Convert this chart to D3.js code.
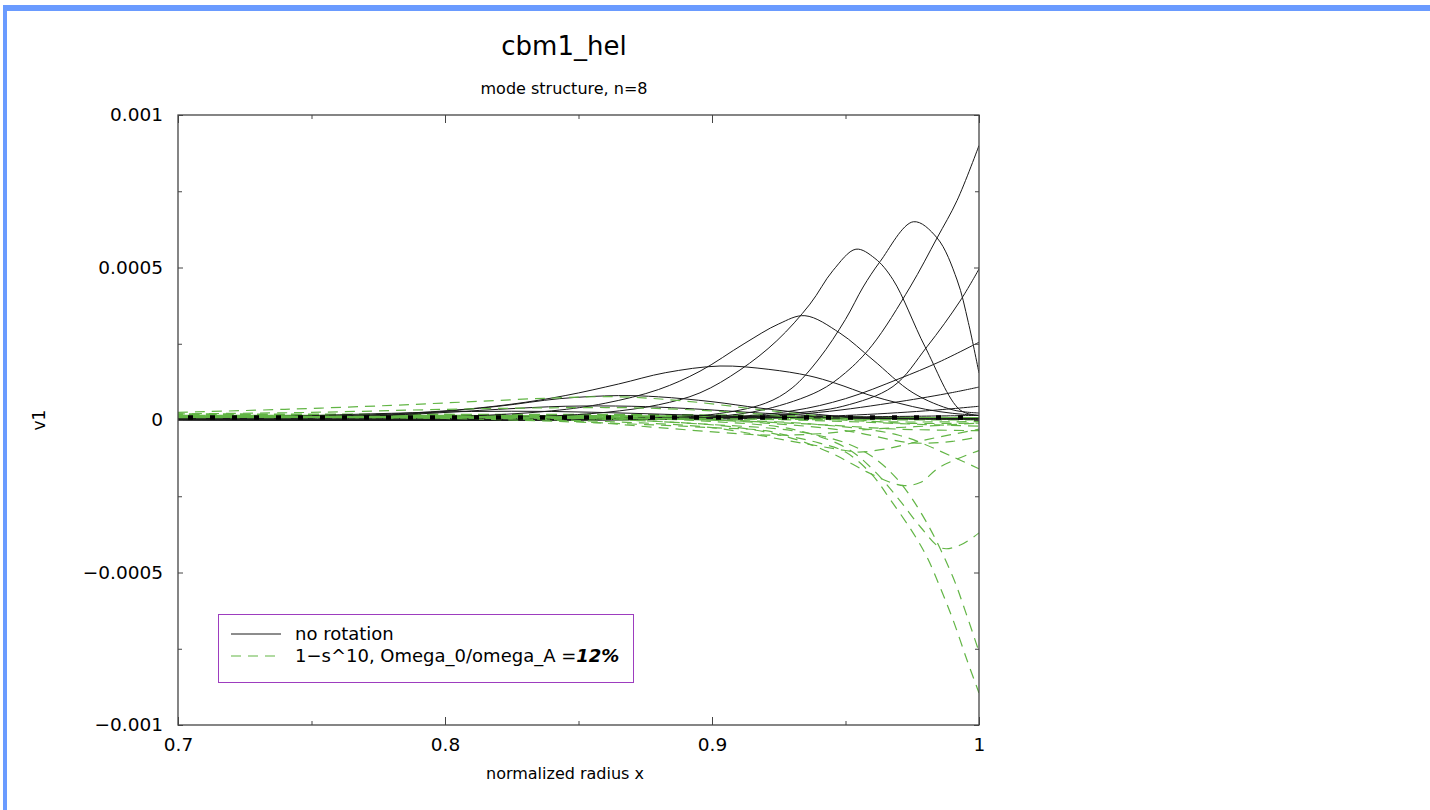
<!DOCTYPE html>
<html>
<head>
<meta charset="utf-8">
<script src="https://cdn.jsdelivr.net/npm/d3@7"></script>
<style>
  body { margin: 0; background: #fff; }
  svg { display: block; font-family: "DejaVu Sans", sans-serif; }
</style>
</head>
<body>
<svg id="chart" width="1430" height="810"></svg>
<script>
// ---- axis ticks ----
const xTickValues = [0.7, 0.8, 0.9, 1.0];
const xTickLabels = ["0.7", "0.8", "0.9", "1"];
const xMinorTicks = [0.75, 0.85, 0.95];
// v1 values are stored in units of 1e-4
const yTickValues = [-10, -5, 0, 5, 10];
const yTickLabels = ["\u22120.001", "\u22120.0005", "0", "0.0005", "0.001"];
const yMinorTicks = [-7.5, -2.5, 2.5, 7.5];

// ---- no rotation: harmonics of v1 (x, v1 * 1e4) ----
const noRot1 = [[0.70,0.05],[0.74,0.12],[0.78,0.22],[0.81,0.28],[0.84,0.28],[0.87,0.22],[0.90,0.14],[0.93,0.08],[0.96,0.05],[1.00,0.04]];
const noRot2 = [[0.70,0.03],[0.75,0.08],[0.79,0.20],[0.82,0.35],[0.845,0.45],[0.87,0.45],[0.89,0.38],[0.92,0.22],[0.95,0.10],[0.98,0.05],[1.00,0.05]];
const noRot3 = [[0.70,0.02],[0.75,0.08],[0.79,0.22],[0.82,0.45],[0.843,0.70],[0.865,0.80],[0.88,0.76],[0.90,0.60],[0.918,0.39],[0.94,0.18],[0.955,0.08],[0.98,0.03],[1.00,0.02]];
const noRot4 = [[0.70,0.03],[0.75,0.10],[0.80,0.30],[0.825,0.52],[0.845,0.80],[0.865,1.18],[0.8825,1.55],[0.903,1.77],[0.9213,1.66],[0.9363,1.45],[0.9464,1.20],[0.9588,0.82],[0.97,0.55],[0.98,0.35],[0.99,0.22],[1.00,0.15]];
const noRot5 = [[0.70,0.01],[0.75,0.03],[0.80,0.10],[0.84,0.30],[0.86,0.55],[0.88,1.00],[0.8955,1.60],[0.912,2.50],[0.925,3.15],[0.9348,3.42],[0.9479,2.85],[0.9603,1.97],[0.9753,0.89],[0.9903,0.33],[1.00,0.23]];
const noRot6 = [[0.70,0.01],[0.78,0.03],[0.83,0.10],[0.86,0.25],[0.88,0.50],[0.8955,0.89],[0.9105,1.64],[0.9243,2.60],[0.9367,3.80],[0.9453,4.90],[0.9539,5.60],[0.961,5.30],[0.9678,4.60],[0.9798,2.40],[0.9929,0.33],[1.00,0.15]];
const noRot7 = [[0.70,0.01],[0.87,0.05],[0.90,0.18],[0.92,0.55],[0.93,1.05],[0.94,2.00],[0.95,3.30],[0.9566,4.36],[0.963,5.20],[0.9754,6.50],[0.9843,5.97],[0.9918,4.59],[0.996,3.20],[1.00,1.54]];
const noRot8 = [[0.70,0.01],[0.88,0.03],[0.90,0.10],[0.92,0.35],[0.94,0.95],[0.95,1.55],[0.96,2.45],[0.9742,4.36],[0.9843,5.97],[0.9918,7.20],[1.00,9.00]];
const noRot9 = [[0.70,0.01],[0.91,0.10],[0.93,0.22],[0.949,0.45],[0.9678,1.10],[0.9805,2.40],[0.9929,3.90],[1.00,4.95]];
const noRot10 = [[0.70,0.01],[0.90,0.08],[0.93,0.30],[0.95,0.70],[0.97,1.35],[0.985,1.90],[1.00,2.55]];
const noRot11 = [[0.70,0.01],[0.90,0.05],[0.94,0.25],[0.97,0.60],[0.99,0.90],[1.00,1.08]];
const noRot12 = [[0.70,0.01],[0.90,0.03],[0.95,0.15],[0.98,0.30],[1.00,0.45]];
const noRot13 = [[0.70,0.05],[0.85,0.07],[0.95,0.10],[1.00,0.15]];

// ---- 1-s^10 rotation, Omega_0/omega_A = 12% (x, v1 * 1e4) ----
const rot1 = [[0.70,0.25],[0.74,0.35],[0.78,0.48],[0.81,0.60],[0.84,0.72],[0.865,0.76],[0.89,0.62],[0.92,0.32],[0.95,0.05],[0.97,-0.10],[1.00,-0.10]];
const rot2 = [[0.70,0.20],[0.75,0.25],[0.80,0.35],[0.84,0.40],[0.87,0.40],[0.90,0.30],[0.93,0.12],[0.96,-0.05],[1.00,-0.05]];
const rot3 = [[0.70,0.10],[0.85,0.10],[0.90,0.00],[0.94,-0.15],[0.97,-0.30],[1.00,-0.35]];
const rot4 = [[0.70,0.10],[0.90,0.05],[0.95,-0.05],[0.98,-0.15],[1.00,-0.20]];
const rot5 = [[0.70,0.10],[0.80,0.10],[0.85,-0.05],[0.88,-0.25],[0.91,-0.45],[0.925,-0.50],[0.94,-0.45],[0.96,-0.30],[0.98,-0.20],[1.00,-0.10]];
const rot6 = [[0.70,0.10],[0.82,0.05],[0.86,-0.05],[0.90,-0.25],[0.93,-0.70],[0.95,-1.00],[0.955,-1.05],[0.965,-0.95],[0.98,-0.65],[1.00,-0.30]];
const rot7 = [[0.70,0.10],[0.85,0.05],[0.88,-0.05],[0.91,-0.25],[0.93,-0.60],[0.945,-1.10],[0.958,-1.70],[0.967,-2.05],[0.972,-2.15],[0.978,-2.05],[0.9854,-1.54],[1.00,-1.00]];
const rot8 = [[0.70,0.10],[0.87,0.05],[0.90,-0.05],[0.93,-0.30],[0.95,-0.90],[0.96,-1.60],[0.97,-2.60],[0.978,-3.50],[0.986,-4.20],[0.993,-4.10],[1.00,-3.70]];
const rot9 = [[0.70,0.10],[0.85,0.05],[0.90,-0.15],[0.93,-0.35],[0.95,-0.75],[0.96,-1.20],[0.97,-2.00],[0.98,-3.30],[0.99,-5.10],[0.995,-6.30],[1.00,-7.60]];
const rot10 = [[0.70,0.10],[0.80,0.05],[0.86,-0.10],[0.90,-0.25],[0.92,-0.35],[0.93,-0.55],[0.94,-0.75],[0.95,-1.05],[0.96,-1.80],[0.9667,-2.60],[0.9753,-3.70],[0.9805,-4.49],[0.9854,-5.48],[0.9903,-6.56],[0.9955,-7.87],[1.00,-8.95]];
const rot11 = [[0.70,0.10],[0.88,0.05],[0.92,-0.10],[0.95,-0.35],[0.975,-0.75],[0.99,-0.70],[1.00,-0.55]];
const rot12 = [[0.70,0.08],[0.90,0.00],[0.94,-0.15],[0.97,-0.50],[0.99,-1.20],[1.00,-1.60]];
// harmonics that stay close to zero across the whole radius
const rotFlat1 = [[0.70,0.12],[0.80,0.12],[0.90,0.10],[0.95,0.06],[1.00,0.05]];
const rotFlat2 = [[0.70,0.17],[0.80,0.16],[0.90,0.14],[0.95,0.08],[1.00,0.05]];
const rotFlat3 = [[0.70,0.08],[0.80,0.08],[0.90,0.06],[0.95,0.04],[1.00,0.03]];

const noRotation = [noRot1, noRot2, noRot3, noRot4, noRot5, noRot6, noRot7, noRot8, noRot9, noRot10, noRot11, noRot12, noRot13];
const rotation = [rot1, rot2, rot3, rot4, rot5, rot6, rot7, rot8, rot9, rot10, rot11, rot12];
const rotationFlat = [rotFlat1, rotFlat2, rotFlat3];

const legendLabels = ["no rotation", "1\u2212s^10, Omega_0/omega_A =", "12%"];

// ---- layout ----
const svg = d3.select("#chart");
const W = 1430, H = 810;
const plot = { left: 178, right: 979, top: 115, bottom: 725 };
const black = "#1a1a1a", green = "#62b545", axisColor = "#444";

const x = d3.scaleLinear().domain([0.7, 1.0]).range([plot.left, plot.right]);
const y = d3.scaleLinear().domain([-10, 10]).range([plot.bottom, plot.top]);

svg.append("rect").attr("width", W).attr("height", H).attr("fill", "#fff");

// window frame
svg.append("rect").attr("x", 3).attr("y", 5).attr("width", W - 3).attr("height", 6).attr("fill", "#6a9bff");
svg.append("rect").attr("x", 3).attr("y", 5).attr("width", 4).attr("height", H - 5).attr("fill", "#6a9bff");

// titles
svg.append("text").attr("x", 564).attr("y", 55).attr("text-anchor", "middle")
  .attr("font-size", 26).attr("fill", "#000").text("cbm1_hel");
svg.append("text").attr("x", 564).attr("y", 94).attr("text-anchor", "middle")
  .attr("font-size", 16).attr("fill", "#000").text("mode structure, n=8");

// clip for curves
svg.append("defs").append("clipPath").attr("id", "plotClip")
  .append("rect").attr("x", plot.left).attr("y", plot.top)
  .attr("width", plot.right - plot.left).attr("height", plot.bottom - plot.top);

const line = d3.line().x(d => x(d[0])).y(d => y(d[1])).curve(d3.curveCatmullRom.alpha(0.5));
const curves = svg.append("g").attr("clip-path", "url(#plotClip)");

// harmonics bunched near zero form a thick green band
curves.selectAll("path.flat").data(rotationFlat).join("path")
  .attr("class", "flat").attr("d", line)
  .attr("fill", "none").attr("stroke", green).attr("stroke-width", 3)
  .attr("stroke-dasharray", "11,6")
  .attr("stroke-dashoffset", (d, i) => i * 6);

// no-rotation harmonics: thin solid black
curves.selectAll("path.norot").data(noRotation).join("path")
  .attr("class", "norot").attr("d", line)
  .attr("fill", "none").attr("stroke", black).attr("stroke-width", 1);

// rotating case: thin dashed green
curves.selectAll("path.rot").data(rotation).join("path")
  .attr("class", "rot").attr("d", line)
  .attr("fill", "none").attr("stroke", green).attr("stroke-width", 1.2)
  .attr("stroke-dasharray", "10,7")
  .attr("stroke-dashoffset", (d, i) => i * 3);

// zero line drawn as heavy black dashes
curves.append("line")
  .attr("x1", plot.left).attr("x2", plot.right)
  .attr("y1", y(0.08)).attr("y2", y(0.08))
  .attr("stroke", "#000").attr("stroke-width", 4.5)
  .attr("stroke-dasharray", "5,17").attr("stroke-dashoffset", -10);

// ---- axes: ticks point inward on all four sides ----
function styleAxis(g) {
  g.select(".domain").remove();
  g.selectAll(".tick line").attr("stroke", axisColor);
  g.selectAll(".tick text").attr("fill", "#000").attr("font-size", 18.5)
    .attr("font-family", "DejaVu Sans, sans-serif");
}

const xAxis = d3.axisBottom(x).tickValues(xTickValues)
  .tickFormat((d, i) => xTickLabels[i]).tickSizeInner(-8).tickSizeOuter(0).tickPadding(13);
svg.append("g").attr("transform", `translate(0,${plot.bottom})`).call(xAxis).call(styleAxis);
svg.append("g").attr("transform", `translate(0,${plot.top})`)
  .call(d3.axisTop(x).tickValues(xTickValues).tickFormat("").tickSizeInner(-8).tickSizeOuter(0)).call(styleAxis);
svg.append("g").attr("transform", `translate(0,${plot.bottom})`)
  .call(d3.axisBottom(x).tickValues(xMinorTicks).tickFormat("").tickSizeInner(-4).tickSizeOuter(0)).call(styleAxis);
svg.append("g").attr("transform", `translate(0,${plot.top})`)
  .call(d3.axisTop(x).tickValues(xMinorTicks).tickFormat("").tickSizeInner(-4).tickSizeOuter(0)).call(styleAxis);

const yAxis = d3.axisLeft(y).tickValues(yTickValues)
  .tickFormat((d, i) => yTickLabels[i]).tickSizeInner(-5).tickSizeOuter(0).tickPadding(15);
svg.append("g").attr("transform", `translate(${plot.left},0)`).call(yAxis).call(styleAxis);
svg.append("g").attr("transform", `translate(${plot.right},0)`)
  .call(d3.axisRight(y).tickValues(yTickValues).tickFormat("").tickSizeInner(-5).tickSizeOuter(0)).call(styleAxis);
svg.append("g").attr("transform", `translate(${plot.left},0)`)
  .call(d3.axisLeft(y).tickValues(yMinorTicks).tickFormat("").tickSizeInner(-4).tickSizeOuter(0)).call(styleAxis);
svg.append("g").attr("transform", `translate(${plot.right},0)`)
  .call(d3.axisRight(y).tickValues(yMinorTicks).tickFormat("").tickSizeInner(-4).tickSizeOuter(0)).call(styleAxis);

// plot frame
svg.append("rect").attr("x", plot.left).attr("y", plot.top)
  .attr("width", plot.right - plot.left).attr("height", plot.bottom - plot.top)
  .attr("fill", "none").attr("stroke", axisColor).attr("stroke-width", 1.3);

// axis titles
svg.append("text").attr("x", 565).attr("y", 779).attr("text-anchor", "middle")
  .attr("font-size", 16).attr("fill", "#000").text("normalized radius x");
svg.append("text").attr("transform", `translate(45,420) rotate(-90)`).attr("text-anchor", "middle")
  .attr("font-size", 17).attr("fill", "#000").text("v1");

// ---- legend ----
const lg = svg.append("g");
lg.append("rect").attr("x", 218.5).attr("y", 614.5).attr("width", 415).attr("height", 68)
  .attr("fill", "#fff").attr("stroke", "#9d3dbf").attr("stroke-width", 1);
lg.append("line").attr("x1", 231).attr("x2", 281).attr("y1", 634).attr("y2", 634)
  .attr("stroke", black).attr("stroke-width", 1);
lg.append("line").attr("x1", 231).attr("x2", 281).attr("y1", 656).attr("y2", 656)
  .attr("stroke", green).attr("stroke-width", 1.2).attr("stroke-dasharray", "10,7");
lg.append("text").attr("x", 295).attr("y", 640).attr("font-size", 18).attr("fill", "#000").text(legendLabels[0]);
const t2 = lg.append("text").attr("x", 295).attr("y", 662).attr("font-size", 18).attr("fill", "#000");
t2.append("tspan").text(legendLabels[1]);
t2.append("tspan").attr("font-weight", "bold").attr("font-style", "italic").text(legendLabels[2]);
</script>
</body>
</html>
